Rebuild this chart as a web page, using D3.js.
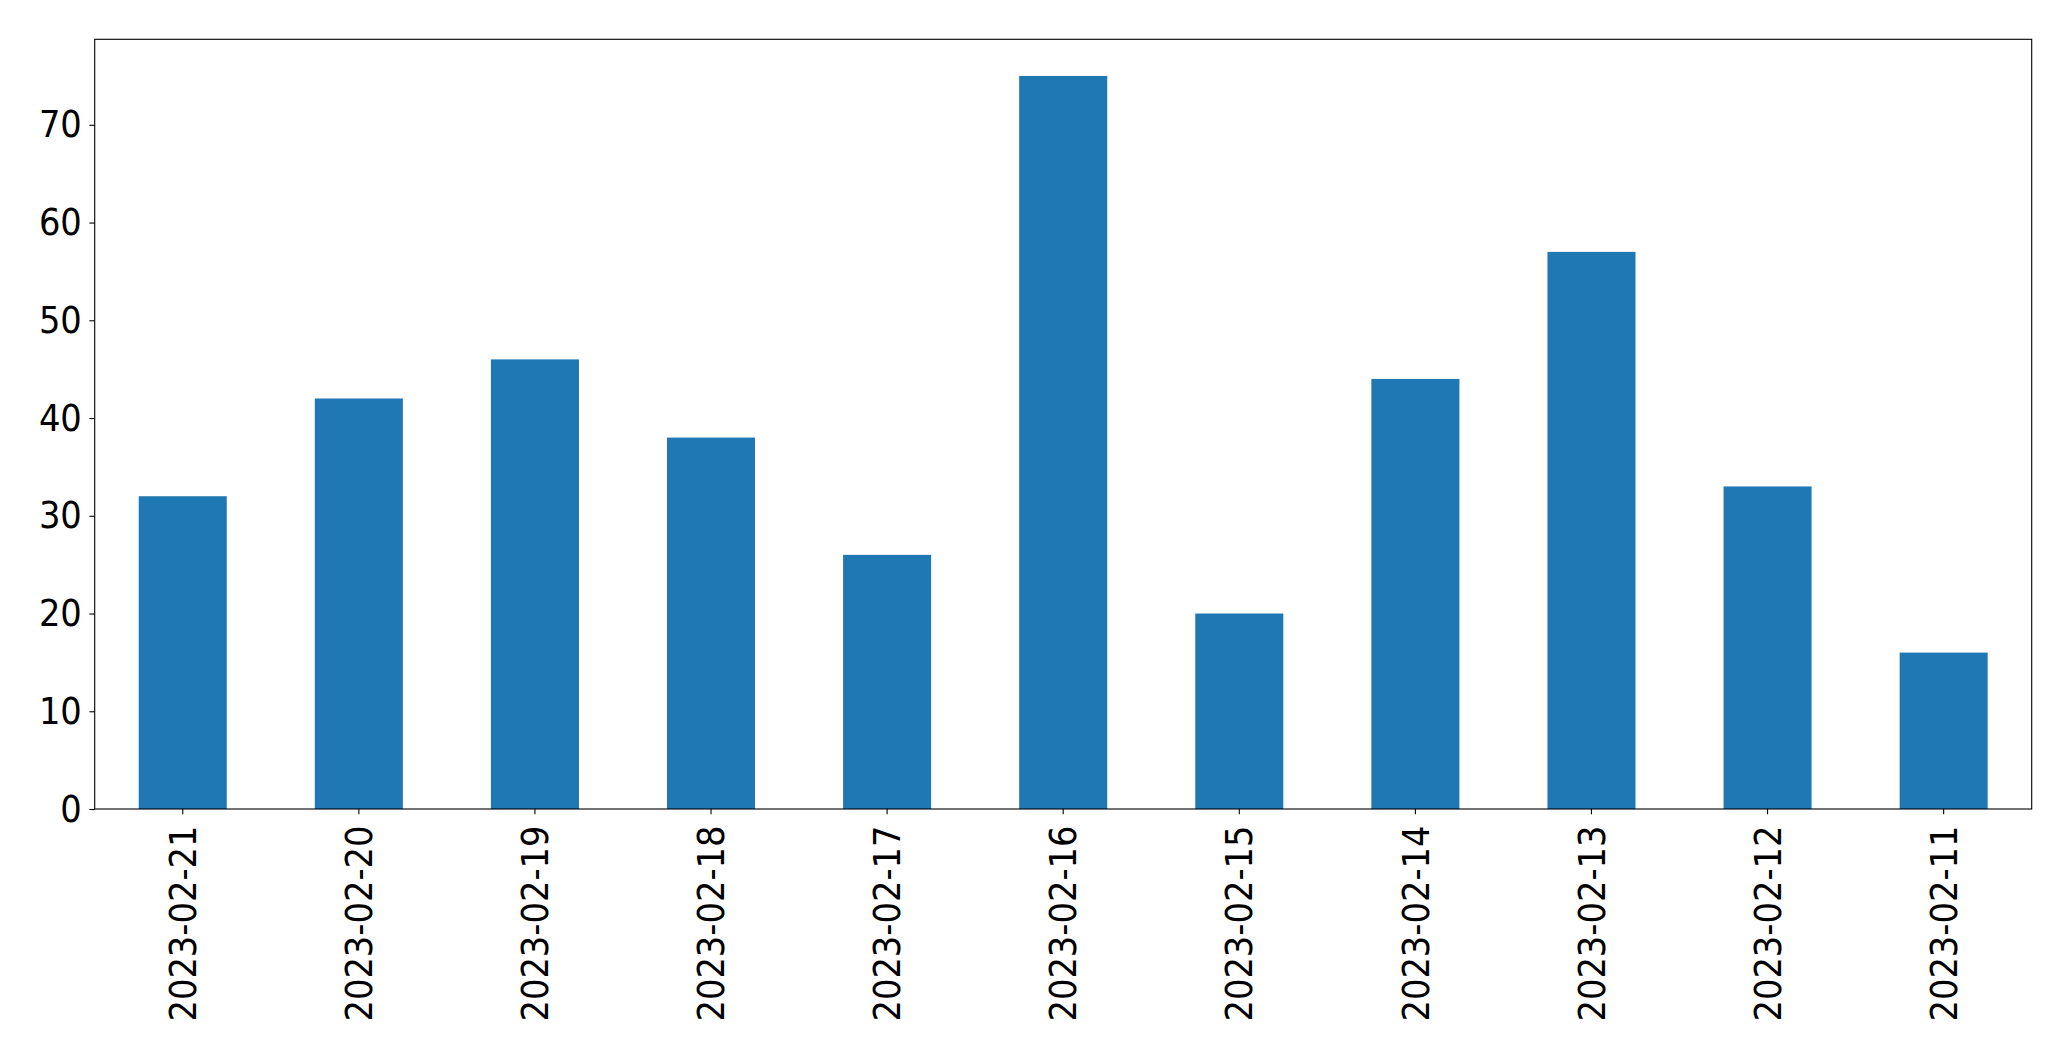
<!DOCTYPE html>
<html><head><meta charset="utf-8">
<script src="https://cdn.jsdelivr.net/npm/d3@7"></script>
<style>body{margin:0;background:#fff}svg{display:block}</style>
</head><body>
<svg id="c" width="2071" height="1061"></svg>
<script>
const categories = ["2023-02-21","2023-02-20","2023-02-19","2023-02-18","2023-02-17","2023-02-16","2023-02-15","2023-02-14","2023-02-13","2023-02-12","2023-02-11"];
const values = [32, 42, 46, 38, 26, 75, 20, 44, 57, 33, 16];
const yTicks = [0, 10, 20, 30, 40, 50, 60, 70];

const m = {left: 94.7, top: 39.3, right: 2031.7, bottom: 809};
const svg = d3.select("#c");
const font = "'DejaVu Sans', sans-serif";
const fs = 37.5;
const sx = 0.90;

const x = d3.scaleBand().domain(categories).range([m.left, m.right]).paddingInner(0.5).paddingOuter(0.25);
const y = d3.scaleLinear().domain([0, d3.max(values) * 1.05]).range([m.bottom, m.top]);

svg.append("g").selectAll("rect").data(values).join("rect")
  .attr("x", (d, i) => x(categories[i]))
  .attr("width", x.bandwidth())
  .attr("y", d => y(d))
  .attr("height", d => y(0) - y(d))
  .attr("fill", "#1f77b4");

const ya = svg.append("g").attr("transform", `translate(${m.left},0)`)
  .call(d3.axisLeft(y).tickValues(yTicks).tickSize(5.3).tickPadding(7.6).tickFormat(d3.format("d")));
ya.select(".domain").remove();
ya.selectAll("text").attr("font-family", font).attr("font-size", fs).attr("fill", "#000")
  .attr("transform", `scale(${sx},1)`).attr("x", -12.9 / sx);
ya.selectAll("line").attr("stroke", "#000").attr("stroke-width", 1.1);

const xa = svg.append("g").attr("transform", `translate(0,${m.bottom})`)
  .call(d3.axisBottom(x).tickSize(5.3).tickPadding(0));
xa.select(".domain").remove();
xa.selectAll("line").attr("stroke", "#000").attr("stroke-width", 1.1);
xa.selectAll("text").attr("font-family", font).attr("font-size", fs).attr("fill", "#000")
  .attr("transform", `rotate(-90) scale(${sx},1)`)
  .attr("text-anchor", "end").attr("dy", "0.35em").attr("x", -16.5 / sx).attr("y", 0);

svg.append("rect").attr("x", m.left).attr("y", m.top)
  .attr("width", m.right - m.left).attr("height", m.bottom - m.top)
  .attr("fill", "none").attr("stroke", "#000").attr("stroke-width", 1.1);
</script>
</body></html>
